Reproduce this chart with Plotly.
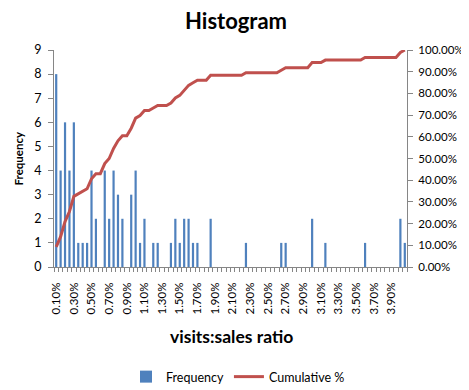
import plotly.graph_objects as go

bins = ["0.10%", "0.15%", "0.20%", "0.25%", "0.30%", "0.35%", "0.40%", "0.45%", "0.50%", "0.55%",
        "0.60%", "0.65%", "0.70%", "0.75%", "0.80%", "0.85%", "0.90%", "0.95%", "1.00%", "1.05%",
        "1.10%", "1.15%", "1.20%", "1.25%", "1.30%", "1.35%", "1.40%", "1.45%", "1.50%", "1.55%",
        "1.60%", "1.65%", "1.70%", "1.75%", "1.80%", "1.85%", "1.90%", "1.95%", "2.00%", "2.05%",
        "2.10%", "2.15%", "2.20%", "2.25%", "2.30%", "2.35%", "2.40%", "2.45%", "2.50%", "2.55%",
        "2.60%", "2.65%", "2.70%", "2.75%", "2.80%", "2.85%", "2.90%", "2.95%", "3.00%", "3.05%",
        "3.10%", "3.15%", "3.20%", "3.25%", "3.30%", "3.35%", "3.40%", "3.45%", "3.50%", "3.55%",
        "3.60%", "3.65%", "3.70%", "3.75%", "3.80%", "3.85%", "3.90%", "3.95%", "4.00%", "4.05%"]

frequency = [8, 4, 6, 4, 6, 1, 1, 1, 4, 2,
             0, 4, 2, 4, 3, 2, 0, 3, 4, 1,
             2, 0, 1, 1, 0, 0, 1, 2, 1, 2,
             2, 1, 1, 0, 0, 2, 0, 0, 0, 0,
             0, 0, 0, 1, 0, 0, 0, 0, 0, 0,
             0, 1, 1, 0, 0, 0, 0, 0, 2, 0,
             0, 1, 0, 0, 0, 0, 0, 0, 0, 0,
             1, 0, 0, 0, 0, 0, 0, 0, 2, 1]

total = sum(frequency)
cumulative = []
running = 0
for f in frequency:
    running += f
    cumulative.append(running / total)

xs = list(range(len(bins)))
label_idx = xs[::4]

FONT = "Lato"
GRAY = "#868686"
W, H = 461, 382  # page body has an 8px margin

fig = go.Figure()
fig.add_bar(x=xs, y=frequency, width=0.5, marker_color="#4F81BD",
            marker_line_width=0, name="Frequency")
fig.add_scatter(x=xs, y=cumulative, yaxis="y2", mode="lines",
                line=dict(color="#C0504D", width=3), name="Cumulative %")

fig.update_layout(
    width=W, height=H,
    margin=dict(l=46, r=62, t=42, b=123),
    paper_bgcolor="white", plot_bgcolor="white",
    font=dict(family=FONT, size=12, color="black"),
    title=dict(text="<b>Histogram</b>", x=228 / W, xanchor="center",
               y=1 - 13 / H, yanchor="middle", yref="container",
               font=dict(family=FONT, size=22, color="black")),
    bargap=0.5,
    showlegend=True,
    legend=dict(orientation="h", xref="container", yref="container",
                x=230 / W, xanchor="center", y=1 - 369 / H, yanchor="middle",
                font=dict(family=FONT, size=12.5)),
    xaxis=dict(range=[-0.5, len(bins) - 0.5], tickmode="array", tickvals=label_idx,
               ticktext=[bins[i] for i in label_idx], tickangle=-90, ticks="",
               automargin=False, ticklabelstandoff=10,
               showline=True, linecolor=GRAY, linewidth=1, showgrid=False, zeroline=False,
               tickfont=dict(size=11.5),
               minor=dict(tickmode="linear", tick0=-0.5, dtick=1, ticks="outside",
                          ticklen=4, tickcolor=GRAY, tickwidth=1, showgrid=False)),
    yaxis=dict(range=[0, 9], dtick=1, ticks="outside", ticklen=5, tickcolor=GRAY,
               automargin=False, ticklabelstandoff=4,
               showline=True, linecolor=GRAY, linewidth=1, showgrid=False, zeroline=False,
               tickfont=dict(size=12.5)),
    yaxis2=dict(range=[0, 1], dtick=0.1, tickformat=".2%", overlaying="y", side="right",
                ticks="outside", ticklen=5, tickcolor=GRAY, automargin=False,
                ticklabelstandoff=3,
                showline=True, linecolor=GRAY, linewidth=1, showgrid=False, zeroline=False,
                tickfont=dict(size=11.5)),
    annotations=[
        dict(text="<b>visits:sales ratio</b>", xref="paper", yref="paper",
             x=(231 - 54) / 353, y=-(336 - 267) / 217, xanchor="center", yanchor="middle",
             showarrow=False, font=dict(family=FONT, size=17.5, color="black")),
        dict(text="<b>Frequency</b>", xref="paper", yref="paper", textangle=-90,
             x=(18 - 54) / 353, y=0.5, xanchor="center", yanchor="middle",
             showarrow=False, font=dict(family=FONT, size=11.5, color="black")),
    ],
)

fig.write_html("out.html")
